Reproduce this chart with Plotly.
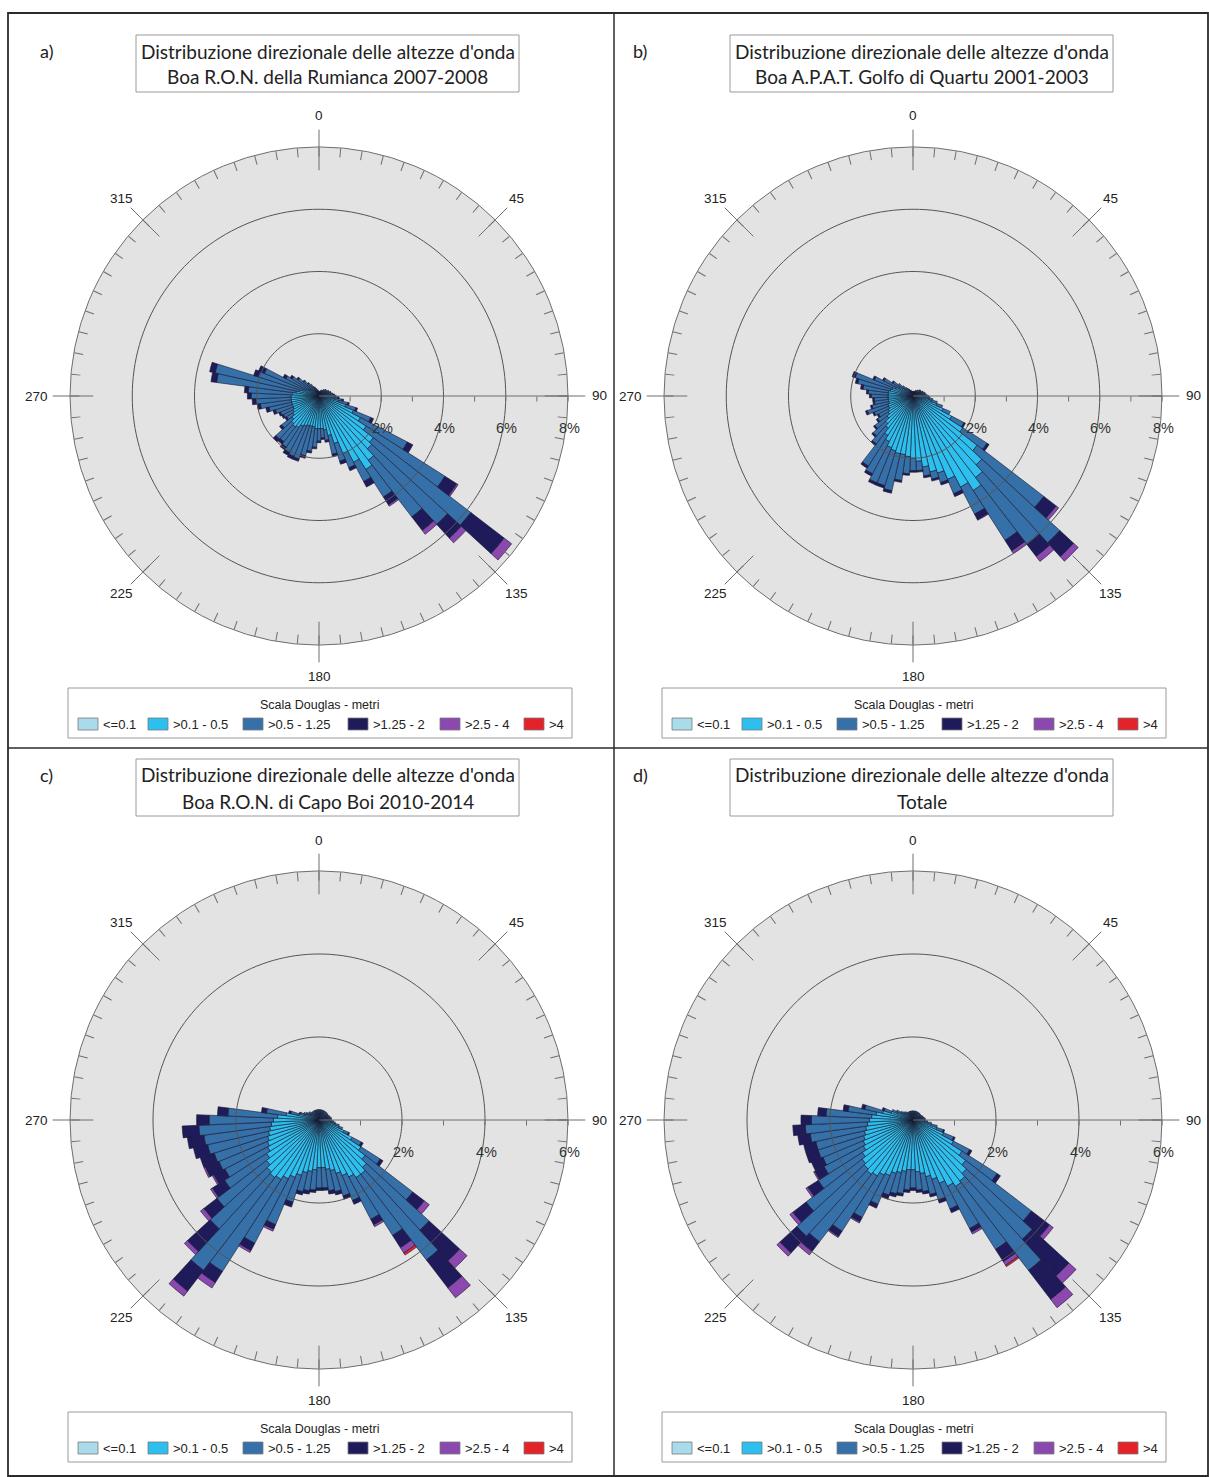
import numpy as np
import plotly.graph_objects as go

W, H = 1209, 1477

# ---------------- data ----------------
directions = list(range(0, 360, 5))
class_labels = ["<=0.1", ">0.1 - 0.5", ">0.5 - 1.25", ">1.25 - 2", ">2.5 - 4", ">4"]
class_colors = ["#a9dbea", "#2dbfee", "#3670a9", "#1f1b5b", "#8b48ae", "#e4222a"]
angle_ticks = [0, 45, 90, 135, 180, 225, 270, 315]
angle_ticktext = ["0", "45", "90", "135", "180", "225", "270", "315"]
title_line1 = "Distribuzione direzionale delle altezze d'onda"
panel_letters = ["a)", "b)", "c)", "d)"]
panel_subtitles = ["Boa R.O.N. della Rumianca 2007-2008",
                   "Boa A.P.A.T. Golfo di Quartu 2001-2003",
                   "Boa R.O.N. di Capo Boi 2010-2014",
                   "Totale"]
panel_rmax = [8, 8, 6, 6]
legend_title = "Scala Douglas - metri"

# ---- panel a) Rumianca (percent per class, 5-degree sectors) ----
a_c0 = [0.05, 0.05, 0.05, 0.05, 0.05, 0.05, 0.05, 0.05, 0.05, 0.05, 0.05, 0.05,
        0.05, 0.05, 0.05, 0.05, 0.05, 0.05, 0.05, 0.05, 0.05, 0.05, 0.05, 0.05,
        0.05, 0.05, 0.05, 0.05, 0.05, 0.05, 0.05, 0.05, 0.05, 0.05, 0.05, 0.05,
        0.05, 0.05, 0.05, 0.05, 0.05, 0.05, 0.05, 0.05, 0.05, 0.05, 0.05, 0.05,
        0.05, 0.05, 0.05, 0.05, 0.05, 0.05, 0.05, 0.05, 0.05, 0.05, 0.05, 0.05,
        0.05, 0.05, 0.05, 0.05, 0.05, 0.05, 0.05, 0.05, 0.05, 0.05, 0.05, 0.05]
a_c1 = [0.05, 0.05, 0.05, 0.05, 0.05, 0.05, 0.07, 0.07, 0.1, 0.1, 0.1, 0.13,
        0.15, 0.15, 0.17, 0.2, 0.2, 0.25, 0.25, 0.35, 0.45, 0.6, 0.85, 1.15,
        1.45, 1.75, 2.15, 2.25, 2.55, 2.75, 2.35, 1.95, 1.55, 1.25, 1.05, 1.0,
        1.0, 1.0, 0.95, 0.95, 0.95, 1.0, 1.05, 1.15, 1.2, 1.15, 1.05, 0.95,
        0.9, 0.85, 0.85, 0.85, 0.85, 0.85, 0.85, 0.8, 0.7, 0.6, 0.5, 0.4,
        0.3, 0.25, 0.2, 0.15, 0.13, 0.1, 0.07, 0.07, 0.05, 0.05, 0.05, 0.05]
a_c2 = [0.05, 0.05, 0.05, 0.05, 0.1, 0.1, 0.08, 0.13, 0.1, 0.15, 0.15, 0.12,
        0.15, 0.15, 0.18, 0.15, 0.2, 0.17, 0.21, 0.21, 0.25, 0.3, 0.34, 0.6,
        1.7, 3.0, 3.95, 3.3, 2.3, 1.05, 0.7, 0.5, 0.6, 0.62, 0.34, 0.3,
        0.4, 0.6, 0.79, 0.97, 1.12, 1.05, 0.95, 0.75, 0.6, 0.68, 0.42, 0.24,
        0.34, 0.44, 0.57, 0.75, 1.0, 1.13, 1.28, 1.43, 2.57, 2.77, 1.5, 1.45,
        0.85, 0.72, 0.59, 0.45, 0.33, 0.3, 0.23, 0.18, 0.15, 0.1, 0.1, 0.05]
a_c3 = [0, 0, 0, 0, 0, 0, 0, 0, 0, 0, 0, 0,
        0, 0, 0, 0, 0, 0.03, 0.04, 0.04, 0.05, 0.05, 0.06, 0.1,
        0.2, 0.45, 1.35, 0.6, 0.55, 0.3, 0.2, 0.1, 0.1, 0.08, 0.06, 0.05,
        0.05, 0.05, 0.06, 0.08, 0.08, 0.1, 0.1, 0.1, 0.1, 0.12, 0.08, 0.06,
        0.06, 0.06, 0.08, 0.1, 0.1, 0.12, 0.12, 0.12, 0.18, 0.18, 0.15, 0.2,
        0.1, 0.08, 0.06, 0.05, 0.04, 0, 0, 0, 0, 0, 0, 0]
a_c4 = [0, 0, 0, 0, 0, 0, 0, 0, 0, 0, 0, 0,
        0, 0, 0, 0, 0, 0, 0, 0, 0, 0, 0, 0,
        0, 0.05, 0.3, 0.2, 0.15, 0.05, 0, 0, 0, 0, 0, 0,
        0, 0, 0, 0, 0, 0, 0, 0, 0, 0, 0, 0,
        0, 0, 0, 0, 0, 0, 0, 0, 0, 0, 0, 0,
        0, 0, 0, 0, 0, 0, 0, 0, 0, 0, 0, 0]
a_c5 = [0, 0, 0, 0, 0, 0, 0, 0, 0, 0, 0, 0,
        0, 0, 0, 0, 0, 0, 0, 0, 0, 0, 0, 0,
        0, 0, 0, 0, 0, 0, 0, 0, 0, 0, 0, 0,
        0, 0, 0, 0, 0, 0, 0, 0, 0, 0, 0, 0,
        0, 0, 0, 0, 0, 0, 0, 0, 0, 0, 0, 0,
        0, 0, 0, 0, 0, 0, 0, 0, 0, 0, 0, 0]

# ---- panel b) Golfo di Quartu ----
b_c0 = [0.05, 0.05, 0.05, 0.05, 0.05, 0.05, 0.05, 0.05, 0.05, 0.05, 0.05, 0.05,
        0.05, 0.05, 0.05, 0.05, 0.05, 0.05, 0.05, 0.05, 0.05, 0.05, 0.05, 0.05,
        0.05, 0.05, 0.05, 0.05, 0.05, 0.05, 0.05, 0.05, 0.05, 0.05, 0.05, 0.05,
        0.05, 0.05, 0.05, 0.05, 0.05, 0.05, 0.05, 0.05, 0.05, 0.05, 0.05, 0.05,
        0.05, 0.05, 0.05, 0.05, 0.05, 0.05, 0.05, 0.05, 0.05, 0.05, 0.05, 0.05,
        0.05, 0.05, 0.05, 0.05, 0.05, 0.05, 0.05, 0.05, 0.05, 0.05, 0.05, 0.05]
b_c1 = [0.05, 0.05, 0.05, 0.05, 0.05, 0.07, 0.07, 0.07, 0.1, 0.1, 0.13, 0.13,
        0.15, 0.17, 0.17, 0.2, 0.23, 0.25, 0.3, 0.35, 0.45, 0.55, 0.75, 1.0,
        1.35, 1.85, 2.55, 2.95, 3.25, 3.55, 3.25, 2.85, 2.55, 2.45, 2.25, 2.05,
        1.95, 1.9, 1.85, 1.85, 1.8, 1.75, 1.6, 1.45, 1.25, 1.15, 1.0, 0.9,
        0.85, 0.8, 0.8, 0.75, 0.75, 0.75, 0.75, 0.75, 0.75, 0.7, 0.65, 0.55,
        0.45, 0.35, 0.25, 0.2, 0.15, 0.13, 0.1, 0.07, 0.07, 0.05, 0.05, 0.05]
b_c2 = [0.05, 0.05, 0.05, 0.05, 0.05, 0.08, 0.08, 0.08, 0.1, 0.1, 0.12, 0.12,
        0.1, 0.13, 0.13, 0.15, 0.12, 0.15, 0.15, 0.15, 0.15, 0.2, 0.2, 0.25,
        0.45, 0.92, 2.7, 3.4, 2.7, 1.9, 0.98, 0.5, 0.32, 0.24, 0.29, 0.3,
        0.4, 0.55, 0.84, 1.22, 1.17, 1.22, 1.17, 1.17, 0.64, 0.54, 0.5, 0.4,
        0.35, 0.5, 0.69, 0.55, 0.45, 0.45, 0.54, 0.64, 0.82, 1.07, 1.25, 0.74,
        0.55, 0.36, 0.3, 0.2, 0.15, 0.12, 0.1, 0.08, 0.08, 0.05, 0.05, 0.05]
b_c3 = [0, 0, 0, 0, 0, 0, 0, 0, 0, 0, 0, 0,
        0, 0, 0, 0, 0, 0, 0, 0, 0, 0, 0, 0,
        0.05, 0.08, 0.5, 0.6, 0.5, 0.4, 0.2, 0.1, 0.08, 0.06, 0.06, 0.05,
        0.05, 0.05, 0.06, 0.08, 0.08, 0.08, 0.08, 0.08, 0.06, 0.06, 0.05, 0.05,
        0.05, 0.05, 0.06, 0.05, 0.05, 0.05, 0.06, 0.06, 0.08, 0.08, 0.1, 0.06,
        0.05, 0.04, 0, 0, 0, 0, 0, 0, 0, 0, 0, 0]
b_c4 = [0, 0, 0, 0, 0, 0, 0, 0, 0, 0, 0, 0,
        0, 0, 0, 0, 0, 0, 0, 0, 0, 0, 0, 0,
        0, 0, 0.1, 0.2, 0.2, 0.1, 0.02, 0, 0, 0, 0, 0,
        0, 0, 0, 0, 0, 0, 0, 0, 0, 0, 0, 0,
        0, 0, 0, 0, 0, 0, 0, 0, 0, 0, 0, 0,
        0, 0, 0, 0, 0, 0, 0, 0, 0, 0, 0, 0]
b_c5 = [0, 0, 0, 0, 0, 0, 0, 0, 0, 0, 0, 0,
        0, 0, 0, 0, 0, 0, 0, 0, 0, 0, 0, 0,
        0, 0, 0, 0, 0, 0, 0, 0, 0, 0, 0, 0,
        0, 0, 0, 0, 0, 0, 0, 0, 0, 0, 0, 0,
        0, 0, 0, 0, 0, 0, 0, 0, 0, 0, 0, 0,
        0, 0, 0, 0, 0, 0, 0, 0, 0, 0, 0, 0]

# ---- panel c) Capo Boi ----
c_c0 = [0.05, 0.05, 0.05, 0.05, 0.05, 0.05, 0.05, 0.05, 0.05, 0.05, 0.05, 0.05,
        0.05, 0.05, 0.05, 0.05, 0.05, 0.05, 0.05, 0.05, 0.05, 0.05, 0.05, 0.05,
        0.05, 0.05, 0.05, 0.05, 0.05, 0.05, 0.05, 0.05, 0.05, 0.05, 0.05, 0.05,
        0.05, 0.05, 0.05, 0.05, 0.05, 0.05, 0.05, 0.05, 0.05, 0.05, 0.05, 0.05,
        0.05, 0.05, 0.05, 0.05, 0.05, 0.05, 0.05, 0.05, 0.05, 0.05, 0.05, 0.05,
        0.05, 0.05, 0.05, 0.05, 0.05, 0.05, 0.05, 0.05, 0.05, 0.05, 0.05, 0.05]
c_c1 = [0.1, 0.1, 0.1, 0.1, 0.1, 0.1, 0.1, 0.1, 0.1, 0.1, 0.1, 0.1,
        0.12, 0.12, 0.13, 0.15, 0.15, 0.15, 0.17, 0.22, 0.27, 0.35, 0.45, 0.6,
        0.85, 1.15, 1.35, 1.5, 1.6, 1.6, 1.5, 1.4, 1.3, 1.2, 1.15, 1.1,
        1.1, 1.15, 1.2, 1.25, 1.35, 1.45, 1.55, 1.65, 1.7, 1.65, 1.55, 1.45,
        1.35, 1.3, 1.25, 1.2, 1.15, 1.1, 1.05, 0.95, 0.75, 0.45, 0.3, 0.25,
        0.2, 0.15, 0.15, 0.12, 0.1, 0.1, 0.1, 0.1, 0.1, 0.1, 0.1, 0.1]
c_c2 = [0.1, 0.1, 0.1, 0.1, 0.1, 0.1, 0.1, 0.1, 0.1, 0.1, 0.1, 0.1,
        0.08, 0.08, 0.09, 0.08, 0.1, 0.1, 0.08, 0.08, 0.08, 0.1, 0.1, 0.12,
        0.25, 0.55, 1.45, 2.05, 2.6, 1.65, 1.15, 0.65, 0.57, 0.52, 0.52, 0.49,
        0.49, 0.49, 0.47, 0.47, 0.68, 1.23, 1.75, 2.63, 2.82, 1.86, 1.5, 1.2,
        1.16, 1.26, 1.35, 1.5, 1.6, 1.75, 1.55, 1.2, 0.48, 0.2, 0.12, 0.1,
        0.1, 0.1, 0.1, 0.08, 0.1, 0.1, 0.1, 0.1, 0.1, 0.1, 0.1, 0.1]
c_c3 = [0, 0, 0, 0, 0, 0, 0, 0, 0, 0, 0, 0,
        0, 0, 0, 0, 0, 0, 0, 0, 0, 0, 0, 0.03,
        0.05, 0.08, 0.35, 1.0, 0.85, 0.35, 0.15, 0.1, 0.08, 0.08, 0.08, 0.06,
        0.06, 0.06, 0.08, 0.08, 0.12, 0.12, 0.2, 0.32, 0.63, 0.74, 0.4, 0.35,
        0.3, 0.35, 0.35, 0.35, 0.4, 0.4, 0.3, 0.25, 0.12, 0.05, 0.03, 0,
        0, 0, 0, 0, 0, 0, 0, 0, 0, 0, 0, 0]
c_c4 = [0, 0, 0, 0, 0, 0, 0, 0, 0, 0, 0, 0,
        0, 0, 0, 0, 0, 0, 0, 0, 0, 0, 0, 0,
        0, 0, 0.15, 0.24, 0.3, 0.15, 0.05, 0, 0, 0, 0, 0,
        0, 0, 0, 0, 0, 0.05, 0.05, 0.15, 0.15, 0.1, 0.1, 0.05,
        0.04, 0.04, 0, 0, 0, 0, 0, 0, 0, 0, 0, 0,
        0, 0, 0, 0, 0, 0, 0, 0, 0, 0, 0, 0]
c_c5 = [0, 0, 0, 0, 0, 0, 0, 0, 0, 0, 0, 0,
        0, 0, 0, 0, 0, 0, 0, 0, 0, 0, 0, 0,
        0, 0, 0, 0, 0, 0.06, 0, 0, 0, 0, 0, 0,
        0, 0, 0, 0, 0, 0, 0, 0, 0, 0, 0, 0,
        0, 0, 0, 0, 0, 0, 0, 0, 0, 0, 0, 0,
        0, 0, 0, 0, 0, 0, 0, 0, 0, 0, 0, 0]

# ---- panel d) Totale ----
d_c0 = [0.05, 0.05, 0.05, 0.05, 0.05, 0.05, 0.05, 0.05, 0.05, 0.05, 0.05, 0.05,
        0.05, 0.05, 0.05, 0.05, 0.05, 0.05, 0.05, 0.05, 0.05, 0.05, 0.05, 0.05,
        0.05, 0.05, 0.05, 0.05, 0.05, 0.05, 0.05, 0.05, 0.05, 0.05, 0.05, 0.05,
        0.05, 0.05, 0.05, 0.05, 0.05, 0.05, 0.05, 0.05, 0.05, 0.05, 0.05, 0.05,
        0.05, 0.05, 0.05, 0.05, 0.05, 0.05, 0.05, 0.05, 0.05, 0.05, 0.05, 0.05,
        0.05, 0.05, 0.05, 0.05, 0.05, 0.05, 0.05, 0.05, 0.05, 0.05, 0.05, 0.05]
d_c1 = [0.09, 0.09, 0.09, 0.09, 0.09, 0.09, 0.09, 0.09, 0.09, 0.09, 0.09, 0.09,
        0.1, 0.11, 0.12, 0.13, 0.15, 0.17, 0.18, 0.22, 0.3, 0.4, 0.55, 0.75,
        1.05, 1.35, 1.55, 1.7, 1.8, 1.85, 1.75, 1.6, 1.45, 1.35, 1.25, 1.2,
        1.15, 1.15, 1.2, 1.25, 1.3, 1.4, 1.45, 1.55, 1.6, 1.55, 1.5, 1.4,
        1.3, 1.25, 1.2, 1.15, 1.1, 1.05, 1.0, 0.95, 0.85, 0.7, 0.5, 0.35,
        0.27, 0.2, 0.15, 0.13, 0.11, 0.09, 0.09, 0.09, 0.09, 0.09, 0.09, 0.09]
d_c2 = [0.08, 0.08, 0.08, 0.08, 0.08, 0.08, 0.08, 0.08, 0.08, 0.08, 0.08, 0.08,
        0.07, 0.08, 0.08, 0.08, 0.08, 0.08, 0.07, 0.08, 0.1, 0.15, 0.17, 0.26,
        0.44, 1.0, 2.0, 2.15, 2.72, 1.8, 1.15, 0.67, 0.52, 0.44, 0.44, 0.44,
        0.44, 0.49, 0.54, 0.52, 0.55, 0.75, 1.15, 1.58, 2.05, 2.2, 1.7, 1.26,
        1.07, 1.05, 1.15, 1.2, 1.35, 1.5, 1.4, 1.1, 0.68, 0.44, 0.18, 0.15,
        0.13, 0.1, 0.1, 0.09, 0.09, 0.08, 0.08, 0.08, 0.08, 0.08, 0.08, 0.08]
d_c3 = [0, 0, 0, 0, 0, 0, 0, 0, 0, 0, 0, 0,
        0, 0, 0, 0, 0, 0, 0, 0, 0, 0, 0.03, 0.04,
        0.06, 0.1, 0.55, 1.2, 0.88, 0.35, 0.1, 0.1, 0.08, 0.06, 0.06, 0.06,
        0.06, 0.06, 0.06, 0.08, 0.1, 0.1, 0.12, 0.15, 0.3, 0.55, 0.4, 0.3,
        0.25, 0.3, 0.3, 0.3, 0.3, 0.3, 0.25, 0.2, 0.12, 0.08, 0.05, 0,
        0, 0, 0, 0, 0, 0, 0, 0, 0, 0, 0, 0]
d_c4 = [0, 0, 0, 0, 0, 0, 0, 0, 0, 0, 0, 0,
        0, 0, 0, 0, 0, 0, 0, 0, 0, 0, 0, 0,
        0, 0, 0.11, 0.23, 0.25, 0.1, 0.05, 0, 0, 0, 0, 0,
        0, 0, 0, 0, 0, 0, 0.03, 0.03, 0.1, 0.1, 0.09, 0.05,
        0.03, 0, 0, 0, 0, 0, 0, 0, 0, 0, 0, 0,
        0, 0, 0, 0, 0, 0, 0, 0, 0, 0, 0, 0]
d_c5 = [0, 0, 0, 0, 0, 0, 0, 0, 0, 0, 0, 0,
        0, 0, 0, 0, 0, 0, 0, 0, 0, 0, 0, 0,
        0, 0, 0, 0, 0, 0.04, 0, 0, 0, 0, 0, 0,
        0, 0, 0, 0, 0, 0, 0, 0, 0, 0, 0, 0,
        0, 0, 0, 0, 0, 0, 0, 0, 0, 0, 0, 0,
        0, 0, 0, 0, 0, 0, 0, 0, 0, 0, 0, 0]

panel_series = [
    [a_c0, a_c1, a_c2, a_c3, a_c4, a_c5],
    [b_c0, b_c1, b_c2, b_c3, b_c4, b_c5],
    [c_c0, c_c1, c_c2, c_c3, c_c4, c_c5],
    [d_c0, d_c1, d_c2, d_c3, d_c4, d_c5],
]

# ---------------- layout helpers ----------------
centers = [(319, 396), (913, 396), (319, 1120), (913, 1120)]
R = 249
AX = "#6e6e6e"
TITLE_FONT = "Lato, 'Open Sans', sans-serif"
ARIAL = "'Liberation Sans', Arial, sans-serif"


def X(px):
    return px / W


def Y(py):
    return 1 - py / H


fig = go.Figure()
shapes = []
annotations = []
circle_theta = np.arange(0, 361, 2)

for i in range(4):
    cx, cy = centers[i]
    dy = cy - 396
    rmax = panel_rmax[i]
    sub = "polar" if i == 0 else f"polar{i + 1}"

    # grid circles (behind bars)
    grid_levels = [v for v in range(2, rmax, 2)]
    rr, tt = [], []
    for g in grid_levels:
        rr += [g] * len(circle_theta) + [None]
        tt += list(circle_theta) + [None]
    fig.add_trace(go.Scatterpolar(r=rr, theta=tt, mode="lines",
                                  line=dict(color="#555555", width=1),
                                  hoverinfo="skip", showlegend=False, subplot=sub))

    # stacked bars
    for k, vals in enumerate(panel_series[i]):
        fig.add_trace(go.Barpolar(
            r=vals, theta=directions, name=class_labels[k],
            marker=dict(color=class_colors[k], line=dict(color="#17172e", width=0.6)),
            showlegend=False, subplot=sub))

    # major angular ticks (crossing the rim)
    fig.add_trace(go.Scatterpolar(
        r=[rmax * 246 / R] * len(angle_ticks), theta=angle_ticks, mode="markers",
        marker=dict(symbol="line-ns", size=29, angle=angle_ticks,
                    color=AX, line=dict(width=1, color=AX)),
        cliponaxis=False, hoverinfo="skip", showlegend=False, subplot=sub))

    # angular labels outside the rim
    for a, lab in zip(angle_ticks, angle_ticktext):
        rad = np.deg2rad(a)
        rl = 280 if a != 270 else 283
        annotations.append(dict(x=X(cx + rl * np.sin(rad)), y=Y(cy - rl * np.cos(rad)),
                                xref="paper", yref="paper", text=lab, showarrow=False,
                                xanchor="center", yanchor="middle",
                                font=dict(family=ARIAL, size=13.5, color="#222222")))

    rtv = list(range(1, rmax + 1))
    # radial labels (below the east axis line)
    for v in rtv:
        if v % 2 == 0:
            annotations.append(dict(x=X(cx + v * R / rmax + 1), y=Y(cy + 32),
                                    xref="paper", yref="paper", text=f"{v}%",
                                    showarrow=False, xanchor="center", yanchor="middle",
                                    font=dict(family=ARIAL, size=14.5, color="#333333")))

    fig.update_layout(**{sub: dict(
        domain=dict(x=[X(cx - R), X(cx + R)], y=[Y(cy + R), Y(cy - R)]),
        bgcolor="#e3e3e3",
        bargap=0,
        barmode="stack",
        angularaxis=dict(rotation=90, direction="clockwise", tickmode="array",
                         tickvals=directions, ticks="inside", ticklen=9, tickwidth=1,
                         tickcolor=AX, showticklabels=False, showgrid=False,
                         showline=True, linecolor=AX, linewidth=1),
        radialaxis=dict(range=[0, rmax], angle=0, tickmode="array", tickvals=rtv,
                        ticks="outside", ticklen=5, tickcolor=AX, showline=True,
                        linecolor=AX, linewidth=1, showgrid=False,
                        showticklabels=False),
    )})

    # title box
    tcx = cx + 8.5
    shapes.append(dict(type="rect", xref="paper", yref="paper",
                       x0=X(tcx - 191.5), x1=X(tcx + 191.5), y0=Y(92 + dy), y1=Y(35 + dy),
                       line=dict(color="#9a9a9a", width=1)))
    annotations.append(dict(x=X(tcx), y=Y(51 + dy), xref="paper", yref="paper",
                            text=title_line1, showarrow=False, xanchor="center", yanchor="middle",
                            font=dict(family=TITLE_FONT, size=19, color="#222222")))
    annotations.append(dict(x=X(tcx), y=Y(77 + dy), xref="paper", yref="paper",
                            text=panel_subtitles[i], showarrow=False, xanchor="center", yanchor="middle",
                            font=dict(family=TITLE_FONT, size=19, color="#222222")))
    annotations.append(dict(x=X(cx - 273), y=Y(51 + dy), xref="paper", yref="paper",
                            text=panel_letters[i], showarrow=False, xanchor="center", yanchor="middle",
                            font=dict(family=TITLE_FONT, size=18, color="#222222")))

    # legend box
    shapes.append(dict(type="rect", xref="paper", yref="paper",
                       x0=X(cx - 251), x1=X(cx + 253), y0=Y(738 + dy), y1=Y(688 + dy),
                       line=dict(color="#9a9a9a", width=1)))
    annotations.append(dict(x=X(cx + 1), y=Y(705 + dy), xref="paper", yref="paper",
                            text=legend_title, showarrow=False, xanchor="center", yanchor="middle",
                            font=dict(family=ARIAL, size=12.5, color="#222222")))
    for k, off in enumerate([-241, -171, -76, 29, 121, 205]):
        shapes.append(dict(type="rect", xref="paper", yref="paper",
                           x0=X(cx + off), x1=X(cx + off + 20), y0=Y(730 + dy), y1=Y(718 + dy),
                           fillcolor=class_colors[k], line=dict(color="#7a7a7a", width=0.8)))
        annotations.append(dict(x=X(cx + off + 23), y=Y(724 + dy), xref="paper", yref="paper",
                                text=class_labels[k], showarrow=False, xanchor="left",
                                yanchor="middle",
                                font=dict(family=ARIAL, size=13, color="#222222")))

# panel frame
shapes.append(dict(type="rect", xref="paper", yref="paper", x0=X(8), x1=X(1208),
                   y0=Y(1476), y1=Y(13), line=dict(color="#2b2b2b", width=1.8)))
shapes.append(dict(type="line", xref="paper", yref="paper", x0=X(614), x1=X(614),
                   y0=Y(1477), y1=Y(13), line=dict(color="#2b2b2b", width=1.5)))
shapes.append(dict(type="line", xref="paper", yref="paper", x0=X(8), x1=X(1208),
                   y0=Y(748), y1=Y(748), line=dict(color="#2b2b2b", width=1.5)))

fig.update_layout(width=W, height=H, margin=dict(l=0, r=0, t=0, b=0),
                  paper_bgcolor="white", plot_bgcolor="white", showlegend=False,
                  shapes=shapes, annotations=annotations)

fig.write_html("out.html", config={"displayModeBar": False},
               post_script="document.body.style.margin='0';document.body.style.overflow='hidden';")
